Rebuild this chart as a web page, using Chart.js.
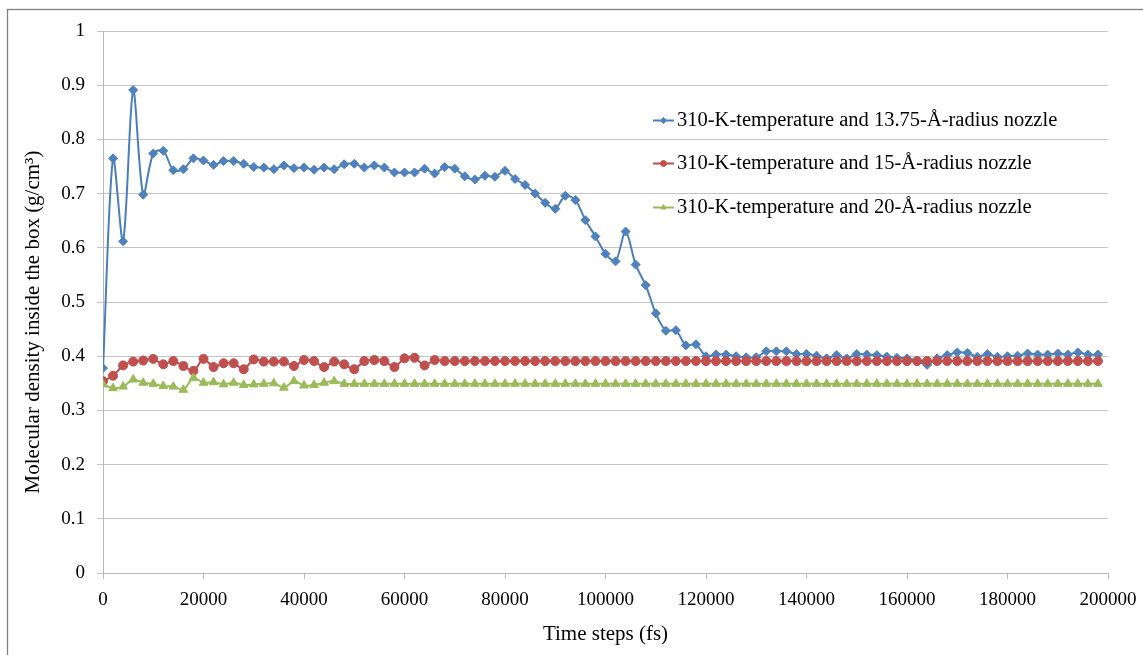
<!DOCTYPE html>
<html>
<head>
<meta charset="utf-8">
<script src="https://cdn.jsdelivr.net/npm/chart.js@4"></script>
<style>
html,body{margin:0;padding:0;background:#fff;}
#wrap{width:1143px;height:655px;position:relative;}
</style>
</head>
<body>
<div id="wrap"><canvas id="c" width="1143" height="655"></canvas></div>
<script>
// ---- data ----
const timeSteps = [
  0,2000,4000,6000,8000,10000,12000,14000,16000,18000,
  20000,22000,24000,26000,28000,30000,32000,34000,36000,38000,
  40000,42000,44000,46000,48000,50000,52000,54000,56000,58000,
  60000,62000,64000,66000,68000,70000,72000,74000,76000,78000,
  80000,82000,84000,86000,88000,90000,92000,94000,96000,98000,
  100000,102000,104000,106000,108000,110000,112000,114000,116000,118000,
  120000,122000,124000,126000,128000,130000,132000,134000,136000,138000,
  140000,142000,144000,146000,148000,150000,152000,154000,156000,158000,
  160000,162000,164000,166000,168000,170000,172000,174000,176000,178000,
  180000,182000,184000,186000,188000,190000,192000,194000,196000,198000
];
const nozzle1375 = [
  0.378,0.765,0.612,0.891,0.698,0.774,0.779,0.743,0.745,0.765,
  0.761,0.753,0.760,0.760,0.755,0.749,0.748,0.745,0.752,0.747,
  0.748,0.744,0.748,0.745,0.754,0.755,0.748,0.752,0.748,0.739,
  0.739,0.739,0.746,0.737,0.749,0.746,0.732,0.726,0.733,0.731,
  0.742,0.727,0.716,0.700,0.683,0.672,0.696,0.688,0.651,0.621,
  0.589,0.575,0.630,0.569,0.531,0.479,0.447,0.448,0.420,0.422,
  0.400,0.403,0.403,0.400,0.398,0.398,0.409,0.409,0.409,0.404,
  0.404,0.401,0.396,0.402,0.396,0.404,0.403,0.402,0.399,0.397,
  0.396,0.392,0.384,0.396,0.402,0.407,0.406,0.399,0.404,0.399,
  0.400,0.401,0.405,0.403,0.403,0.405,0.403,0.407,0.403,0.403
];
const nozzle15 = [
  0.354,0.364,0.383,0.390,0.392,0.395,0.385,0.391,0.382,0.373,
  0.395,0.380,0.387,0.387,0.376,0.394,0.390,0.390,0.390,0.382,
  0.393,0.391,0.380,0.390,0.385,0.376,0.391,0.393,0.391,0.380,
  0.396,0.397,0.383,0.393,0.391,0.391,0.391,0.391,0.391,0.391,
  0.391,0.391,0.391,0.391,0.391,0.391,0.391,0.391,0.391,0.391,
  0.391,0.391,0.391,0.391,0.391,0.391,0.391,0.391,0.391,0.391,
  0.391,0.391,0.391,0.391,0.391,0.391,0.391,0.391,0.391,0.391,
  0.391,0.391,0.391,0.391,0.391,0.391,0.391,0.391,0.391,0.391,
  0.391,0.391,0.391,0.391,0.391,0.391,0.391,0.391,0.391,0.391,
  0.391,0.391,0.391,0.391,0.391,0.391,0.391,0.391,0.391,0.391
];
const nozzle20 = [
  0.348,0.341,0.344,0.357,0.351,0.349,0.345,0.344,0.338,0.360,
  0.351,0.352,0.348,0.351,0.347,0.348,0.349,0.350,0.342,0.354,
  0.346,0.347,0.351,0.354,0.349,0.349,0.349,0.349,0.349,0.349,
  0.349,0.349,0.349,0.349,0.349,0.349,0.349,0.349,0.349,0.349,
  0.349,0.349,0.349,0.349,0.349,0.349,0.349,0.349,0.349,0.349,
  0.349,0.349,0.349,0.349,0.349,0.349,0.349,0.349,0.349,0.349,
  0.349,0.349,0.349,0.349,0.349,0.349,0.349,0.349,0.349,0.349,
  0.349,0.349,0.349,0.349,0.349,0.349,0.349,0.349,0.349,0.349,
  0.349,0.349,0.349,0.349,0.349,0.349,0.349,0.349,0.349,0.349,
  0.349,0.349,0.349,0.349,0.349,0.349,0.349,0.349,0.349,0.349
];
const seriesLabels = [
  '310-K-temperature and 13.75-Å-radius nozzle',
  '310-K-temperature and 15-Å-radius nozzle',
  '310-K-temperature and 20-Å-radius nozzle'
];
const xTicks = [0,20000,40000,60000,80000,100000,120000,140000,160000,180000,200000];
const yTicks = [0,0.1,0.2,0.3,0.4,0.5,0.6,0.7,0.8,0.9,1];
const xTitle = 'Time steps (fs)';
const yTitle = 'Molecular density inside the box (g/cm³)';

// ---- styles ----
const FONT = "'Liberation Serif', 'Times New Roman', serif";
const colors = [
  {line:'#4A7EBB', point:'#4F81BD', style:'rectRot', r:4.5},
  {line:'#BE4B48', point:'#C0504D', style:'circle', r:4.5},
  {line:'#98B954', point:'#9BBB59', style:'triangle', r:5}
];
const seriesValues = [nozzle1375, nozzle15, nozzle20];

const datasets = seriesValues.map((vals, i) => ({
  label: seriesLabels[i],
  data: timeSteps.map((t, k) => ({x: t, y: vals[k]})),
  borderColor: colors[i].line,
  backgroundColor: colors[i].point,
  borderWidth: 2,
  tension: 0.3,
  pointStyle: colors[i].style,
  pointRadius: colors[i].r,
  pointBackgroundColor: colors[i].point,
  pointBorderColor: colors[i].point,
  pointBorderWidth: 1,
  order: 3 - i
}));

const framePlugin = {
  id: 'frame',
  beforeDraw(chart) {
    const ctx = chart.ctx;
    ctx.save();
    ctx.fillStyle = '#fff';
    ctx.fillRect(0, 0, chart.width, chart.height);
    ctx.strokeStyle = '#808080';
    ctx.lineWidth = 1.3;
    ctx.strokeRect(7.5, 9.5, chart.width + 20, chart.height + 20);
    ctx.restore();
  }
};

const yTitlePlugin = {
  id: 'yTitle',
  afterDraw(chart) {
    const ctx = chart.ctx;
    ctx.save();
    ctx.translate(33, 322);
    ctx.rotate(-Math.PI / 2);
    ctx.fillStyle = '#000';
    ctx.font = "21px " + FONT;
    ctx.textAlign = 'center';
    ctx.textBaseline = 'middle';
    ctx.fillText(yTitle, 0, 0);
    ctx.restore();
  }
};

const legendPlugin = {
  id: 'customLegend',
  afterDraw(chart) {
    const ctx = chart.ctx;
    const ys = [120.5, 163.5, 207.5];
    ctx.save();
    chart.data.datasets.forEach((ds, i) => {
      const y = ys[i];
      ctx.strokeStyle = ds.borderColor;
      ctx.lineWidth = 2;
      ctx.beginPath();
      ctx.moveTo(653, y);
      ctx.lineTo(674, y);
      ctx.stroke();
      ctx.fillStyle = ds.pointBackgroundColor;
      ctx.strokeStyle = ds.pointBackgroundColor;
      ctx.lineWidth = 1;
      Chart.helpers.drawPoint(ctx, {pointStyle: ds.pointStyle, radius: 3, borderWidth: 1}, 663.5, y);
      ctx.fillStyle = '#000';
      ctx.font = "20.5px " + FONT;
      ctx.textBaseline = 'middle';
      ctx.textAlign = 'left';
      ctx.fillText(ds.label, 677, y);
    });
    ctx.restore();
  }
};

new Chart(document.getElementById('c'), {
  type: 'line',
  data: {datasets},
  plugins: [framePlugin, legendPlugin, yTitlePlugin],
  options: {
    responsive: false,
    animation: false,
    layout: {padding: {left: 10, top: 31, right: 35, bottom: 8}},
    plugins: {legend: {display: false}, tooltip: {enabled: false}},
    scales: {
      x: {
        type: 'linear',
        min: 0, max: 200000,
        afterBuildTicks(scale) { scale.ticks = xTicks.map(v => ({value: v})); },
        afterFit(scale) { scale.height = 74; scale.paddingRight = 30; scale.paddingLeft = 0; },
        ticks: {
          color: '#000',
          font: {family: FONT, size: 19},
          padding: 10,
          maxRotation: 0,
          autoSkip: false,
          callback: v => String(v)
        },
        grid: {drawOnChartArea: false, drawTicks: true, tickLength: 6, color: '#b9b9b9'},
        border: {color: '#b9b9b9', width: 1},
        title: {
          display: true, text: xTitle, color: '#000',
          font: {family: FONT, size: 21}, padding: {top: 0, bottom: 0}
        }
      },
      y: {
        min: 0, max: 1,
        afterBuildTicks(scale) { scale.ticks = yTicks.map(v => ({value: v})); },
        afterFit(scale) { scale.width = 93; },
        ticks: {
          color: '#000',
          font: {family: FONT, size: 19},
          padding: 12,
          callback: v => String(Math.round(v * 10) / 10)
        },
        grid: {color: '#c4c4c4', tickLength: 6, drawTicks: true},
        border: {color: '#b9b9b9', width: 1},
        title: {display: false}
      }
    }
  }
});
</script>
</body>
</html>
